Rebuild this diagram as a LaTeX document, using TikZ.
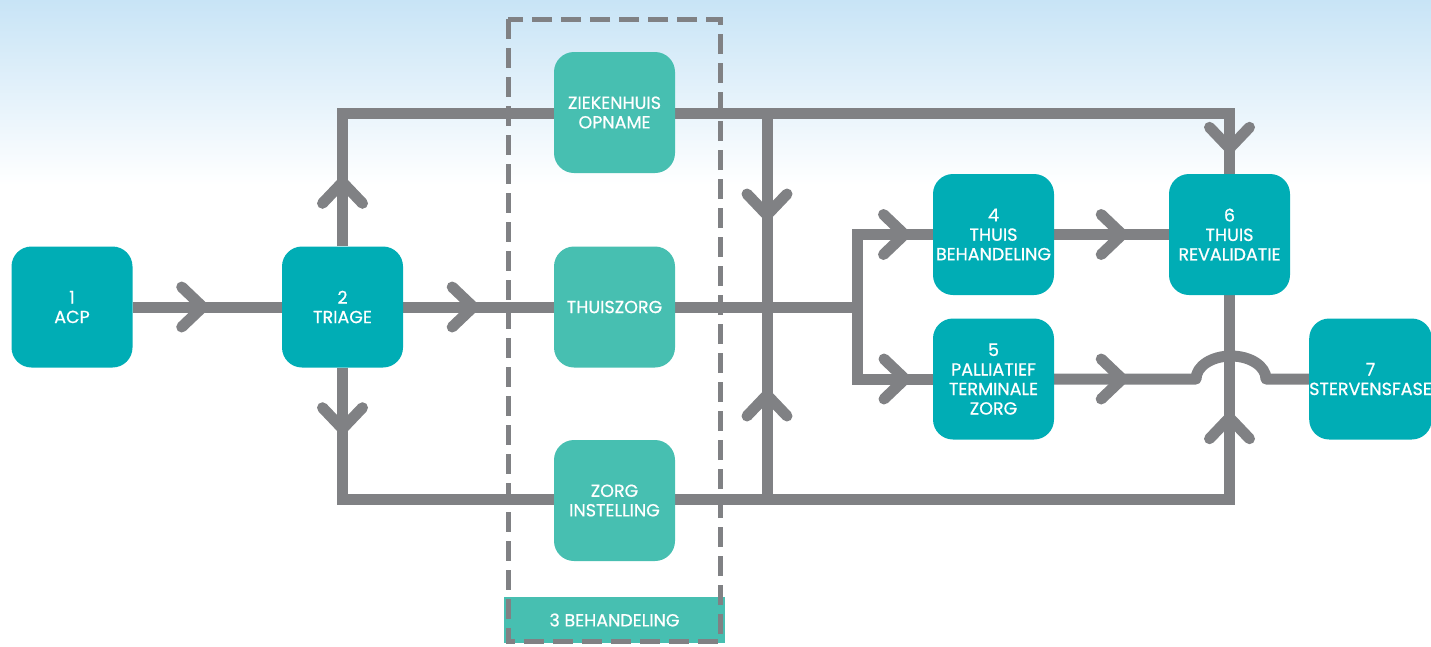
\documentclass[tikz,border=0pt]{standalone}
\usepackage{fontspec}
\setmainfont{Poppins}
\newfontfamily\boxfont{Poppins}[FakeBold=0.7]
\usetikzlibrary{decorations.markings}
\definecolor{tealA}{RGB}{0,173,181}
\definecolor{tealB}{RGB}{71,191,177}
\definecolor{lineg}{RGB}{128,129,132}
\definecolor{sky}{RGB}{200,228,246}
\pgfdeclarelayer{back}
\pgfdeclarelayer{mid}
\pgfsetlayers{back,mid,main}
\begin{document}
\begin{tikzpicture}[x=1pt,y=-1pt,
  box/.style={fill=tealA, rounded corners=20pt, minimum width=121pt, minimum height=121pt,
    inner sep=0pt, align=center, text=white, font=\boxfont\fontsize{17.5}{19.5}\selectfont},
  lbox/.style={box, fill=tealB},
  flow/.style={draw=lineg, line width=11pt},
  chevl/.style={draw=lineg, line width=11pt, line cap=round, line join=miter},
  chevron/.style={postaction={decorate,decoration={markings,
      mark=at position #1 with {\draw[chevl] (-21pt,20pt)--(0pt,0pt)--(-21pt,-20pt);}}}},
  dashbox/.style={draw=lineg, line width=5pt, dash pattern=on 20pt off 9pt},
  lbl/.style={text=white, font=\boxfont\fontsize{17.5}{19.5}\selectfont, inner sep=0pt}
]
\useasboundingbox (0,0) rectangle (1431,646);
\begin{pgfonlayer}{back}
  \shade[top color=sky, bottom color=white] (0,0) rectangle (1431,185);
\end{pgfonlayer}

% nodes
\node[box]  (n1) at (72,307)      {1\\ACP};
\node[box]  (n2) at (342.5,307)   {2\\TRIAGE};
\node[lbox] (zk) at (614.5,112.5) {ZIEKENHUIS\\OPNAME};
\node[lbox] (tz) at (614.5,307)   {THUISZORG};
\node[lbox] (zi) at (614.5,500.5) {ZORG\\INSTELLING};
\node[box]  (n4) at (993.5,234.5) {4\\THUIS\\BEHANDELING};
\node[box]  (n5) at (993.5,379)   {5\\PALLIATIEF\\TERMINALE\\ZORG};
\node[box]  (n6) at (1229.5,234.5){6\\THUIS\\REVALIDATIE};
\node[box]  (n7) at (1370.5,379)  {7\\STERVENSFASE};

% group box
\fill[tealB] (504,597) rectangle (725,643);
\node[lbl] (b3) at (614.5,620) {3 BEHANDELING};
\draw[dashbox] (508,19) rectangle (720,641);

\coordinate (J)  at (857,307);
\coordinate (vt) at (767,113);
\coordinate (vm) at (767,307);
\coordinate (vb) at (767,499);

\begin{pgfonlayer}{mid}
  \draw[flow, chevron=70pt] (n1.east) -- (n2.west);
  \draw[flow, chevron=70pt] (n2.east) -- (tz.west);
  \draw[flow] (tz.east) -- (J);
  \draw[flow, chevron=120pt] (J) |- (n4.west);
  \draw[flow, chevron=120pt] (J) |- (n5.west);
  \draw[flow, chevron=68pt] (n4.east) -- (n6.west);
  \draw[flow, chevron=68pt, line join=round] (n5.east) -- (1196,379)
     arc[start angle=180, end angle=360, x radius=35, y radius=23] -- (n7.west);
  \draw[flow, chevron=64pt, chevron=1055pt] (n2.north) -- ++(0,-133) -| (n6.north);
  \draw[flow, chevron=61pt, chevron=1101pt] (n2.south) -- ++(0,132) -| (n6.south);
  \draw[flow, chevron=102pt] (vt) -- (vm);
  \draw[flow, chevron=104pt] (vb) -- (vm);
\end{pgfonlayer}
\end{tikzpicture}
\end{document}
